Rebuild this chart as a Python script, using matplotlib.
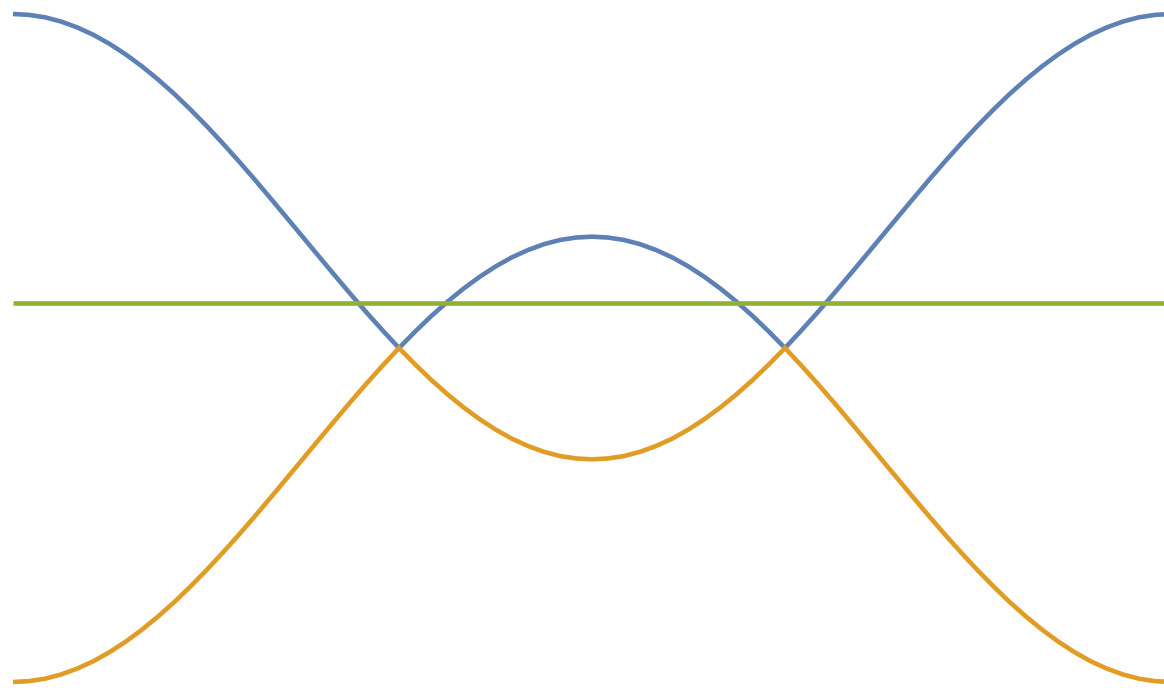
"""
Three eigenvalue branches over one period of the phase angle.
"""

import matplotlib
matplotlib.use('Agg')
import matplotlib.pyplot as plt

# phase angle in degrees, sampled every 5 degrees
theta = list(range(0, 361, 5))

upper = [3.000, 2.992, 2.970, 2.932, 2.879, 2.813, 2.732, 2.638, 2.532, 2.414,
         2.286, 2.147, 2.000, 1.845, 1.684, 1.518, 1.347, 1.174, 1.000, 0.826,
         0.653, 0.482, 0.316, 0.155, 0.000, 0.147, 0.286, 0.414, 0.532, 0.638,
         0.732, 0.813, 0.879, 0.932, 0.970, 0.992, 1.000, 0.992, 0.970, 0.932,
         0.879, 0.813, 0.732, 0.638, 0.532, 0.414, 0.286, 0.147, 0.000, 0.155,
         0.316, 0.482, 0.653, 0.826, 1.000, 1.174, 1.347, 1.518, 1.684, 1.845,
         2.000, 2.147, 2.286, 2.414, 2.532, 2.638, 2.732, 2.813, 2.879, 2.932,
         2.970, 2.992, 3.000]

lower = [-3.000, -2.992, -2.970, -2.932, -2.879, -2.813, -2.732, -2.638, -2.532, -2.414,
         -2.286, -2.147, -2.000, -1.845, -1.684, -1.518, -1.347, -1.174, -1.000, -0.826,
         -0.653, -0.482, -0.316, -0.155, 0.000, -0.147, -0.286, -0.414, -0.532, -0.638,
         -0.732, -0.813, -0.879, -0.932, -0.970, -0.992, -1.000, -0.992, -0.970, -0.932,
         -0.879, -0.813, -0.732, -0.638, -0.532, -0.414, -0.286, -0.147, 0.000, -0.155,
         -0.316, -0.482, -0.653, -0.826, -1.000, -1.174, -1.347, -1.518, -1.684, -1.845,
         -2.000, -2.147, -2.286, -2.414, -2.532, -2.638, -2.732, -2.813, -2.879, -2.932,
         -2.970, -2.992, -3.000]

flat_x = [0, 360]
flat = [0.4, 0.4]

W, H = 1164, 688
fig = plt.figure(figsize=(W / 100, H / 100), dpi=100)
# the period runs a few pixels past the right edge of the canvas
ax = fig.add_axes([13 / W, 6 / H, 1158 / W, (H - 6 - 14) / H])

lw = 3.3
ax.plot(theta, upper, color='#5E81B5', lw=lw, solid_capstyle='butt',
        solid_joinstyle='miter', clip_on=False)
ax.plot(theta, lower, color='#E19C24', lw=lw, solid_capstyle='butt',
        solid_joinstyle='miter', clip_on=False)
ax.plot(flat_x, flat, color='#8FB032', lw=lw, solid_capstyle='butt', clip_on=False)

ax.set_xlim(0, 360)
ax.set_ylim(-3, 3)
ax.axis('off')

fig.savefig('out.png', dpi=100)
